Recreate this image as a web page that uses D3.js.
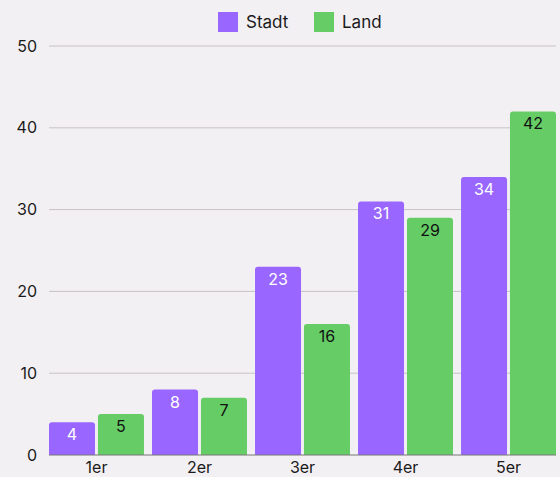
<!DOCTYPE html>
<html>
<head>
<meta charset="utf-8">
<script src="https://cdn.jsdelivr.net/npm/d3@7"></script>
<style>
  html, body { margin: 0; padding: 0; background: #f3f0f3; }
  svg { display: block; font-family: Inter, "Noto Sans", sans-serif; }
</style>
</head>
<body>
<svg id="chart" width="560" height="477"></svg>
<script>
const categories = ["1er", "2er", "3er", "4er", "5er"];
const seriesNames = ["Stadt", "Land"];
const stadt = [4, 8, 23, 31, 34];
const land = [5, 7, 16, 29, 42];
const yTicks = [0, 10, 20, 30, 40, 50];

const colors = { Stadt: "#9966ff", Land: "#66cc66" };
const labelColors = { Stadt: "#ffffff", Land: "#111111" };

const svg = d3.select("#chart");
const W = 560, H = 477;
const m = { left: 49, right: 4, top: 46, bottom: 22 };

const x0 = d3.scaleBand().domain(categories).range([m.left, W - m.right])
  .paddingInner(0.078).paddingOuter(0);
const x1 = d3.scaleBand().domain(seriesNames).range([0, x0.bandwidth()])
  .paddingInner(0.06);
const y = d3.scaleLinear().domain([0, 50]).range([H - m.bottom, m.top]);

// horizontal gridlines
svg.append("g").selectAll("line").data(yTicks.filter(t => t > 0)).join("line")
  .attr("x1", m.left).attr("x2", W - m.right)
  .attr("y1", d => y(d)).attr("y2", d => y(d))
  .attr("stroke", "#c6c2c6").attr("stroke-width", 1);

// y tick labels
svg.append("g").selectAll("text").data(yTicks).join("text")
  .attr("x", 37).attr("y", d => y(d)).attr("dy", "0.35em")
  .attr("text-anchor", "end").attr("font-size", 16).attr("fill", "#1a1a1a")
  .text(d => d);

const rows = categories.map((c, i) => ({ cat: c, Stadt: stadt[i], Land: land[i] }));

// rounded-top bar path
function barPath(xp, w, yTop, yBase, r) {
  r = Math.min(r, (yBase - yTop), w / 2);
  return `M${xp},${yBase}V${yTop + r}Q${xp},${yTop} ${xp + r},${yTop}` +
    `H${xp + w - r}Q${xp + w},${yTop} ${xp + w},${yTop + r}V${yBase}Z`;
}

const groups = svg.append("g").selectAll("g").data(rows).join("g")
  .attr("transform", d => `translate(${x0(d.cat)},0)`);

const bars = groups.selectAll("g").data(d => seriesNames.map(s => ({ s, v: d[s] }))).join("g");

bars.append("path")
  .attr("d", d => barPath(x1(d.s), x1.bandwidth(), y(d.v), y(0), 3))
  .attr("fill", d => colors[d.s]);

bars.append("text")
  .attr("x", d => x1(d.s) + x1.bandwidth() / 2)
  .attr("y", d => y(d.v) + 18)
  .attr("text-anchor", "middle").attr("font-size", 16)
  .attr("fill", d => labelColors[d.s])
  .text(d => d.v);

// baseline
svg.append("line")
  .attr("x1", m.left).attr("x2", W - m.right)
  .attr("y1", y(0)).attr("y2", y(0))
  .attr("stroke", "#777").attr("stroke-width", 1);

// x category labels
svg.append("g").selectAll("text").data(categories).join("text")
  .attr("x", d => x0(d) + x0.bandwidth() / 2).attr("y", H - 4)
  .attr("text-anchor", "middle").attr("font-size", 16).attr("fill", "#1a1a1a")
  .text(d => d);

// legend
const legend = svg.append("g");
const legendItems = [{ s: "Stadt", x: 218 }, { s: "Land", x: 314 }];
legendItems.forEach(it => {
  legend.append("rect").attr("x", it.x).attr("y", 12).attr("width", 20).attr("height", 20)
    .attr("fill", colors[it.s]);
  legend.append("text").attr("x", it.x + 28).attr("y", 22).attr("dy", "0.35em")
    .attr("font-size", 17).attr("fill", "#1a1a1a").text(it.s);
});
</script>
</body>
</html>
